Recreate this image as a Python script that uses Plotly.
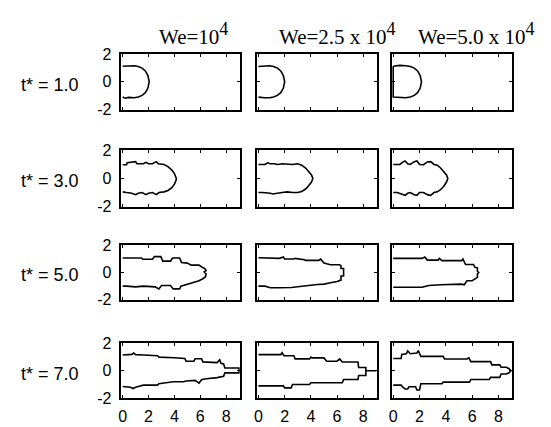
import plotly.graph_objects as go

# ---------------- data ----------------
col_titles = ["We=10<sup><span style='font-size:18px'>4</span></sup>",
              "We=2.5 x 10<sup><span style='font-size:18px'>4</span></sup>",
              "We=5.0 x 10<sup><span style='font-size:18px'>4</span></sup>"]
row_titles = ["t* = 1.0", "t* = 3.0", "t* = 5.0", "t* = 7.0"]
x_ticks = [0, 2, 4, 6, 8]
y_ticks = [-2, 0, 2]
y_tick_text = ["-2", "0", "2"]

# t* = 1.0
x_t1_a = [0, 0.45, 0.9, 1.2, 1.5, 1.75, 1.95, 2.05, 1.95, 1.75, 1.5, 1.2, 0.9, 0.45, 0.2, 0]
y_t1_a = [1.12, 1.15, 1.15, 1.1, 0.98, 0.78, 0.45, 0, -0.45, -0.78, -0.98, -1.1, -1.15, -1.12, -1.18, -1.1]
x_t1_b = [0, 0.45, 0.85, 1.15, 1.45, 1.7, 1.9, 2.0, 1.9, 1.7, 1.45, 1.15, 0.85, 0.45, 0]
y_t1_b = [1.1, 1.15, 1.15, 1.1, 0.98, 0.78, 0.45, 0, -0.45, -0.78, -0.98, -1.1, -1.15, -1.15, -1.1]
x_t1_c = [0, 0.5, 0.95, 1.3, 1.6, 1.85, 2.05, 2.15, 2.05, 1.85, 1.6, 1.3, 0.95, 0.5, 0, 0]
y_t1_c = [1.12, 1.18, 1.15, 1.1, 0.98, 0.78, 0.45, 0, -0.45, -0.78, -0.98, -1.1, -1.15, -1.15, -1.1, 1.12]

# t* = 3.0
x_t3_a = [0, 0.3, 0.35, 0.8, 1.0, 1.1, 1.6, 1.8, 2.0, 2.3, 2.6, 2.75, 3.2, 3.5, 3.8, 4.0, 4.12, 4.15,
          4.12, 4.0, 3.8, 3.5, 3.2, 2.8, 2.6, 2.3, 2.0, 1.8, 1.5, 1.2, 1.0, 0.7, 0.3, 0]
y_t3_a = [0.98, 0.98, 1.12, 1.15, 1.2, 1.05, 1.05, 1.15, 1.05, 1.05, 1.2, 1.05, 1.0, 0.85, 0.6, 0.35, 0.15, 0,
          -0.15, -0.4, -0.65, -0.85, -0.95, -1.0, -1.15, -1.0, -1.05, -1.15, -1.0, -1.05, -1.15, -1.05, -1.0, -0.95]
x_t3_b = [0, 0.5, 0.7, 0.9, 1.2, 1.5, 1.8, 2.2, 2.6, 3.0, 3.3, 3.6, 3.85, 4.05, 4.15,
          4.05, 3.85, 3.6, 3.3, 3.0, 2.6, 2.2, 1.8, 1.4, 1.1, 0.9, 0.6, 0.3, 0]
y_t3_b = [1.0, 1.0, 1.12, 1.05, 1.05, 1.0, 1.05, 1.0, 1.0, 1.05, 0.95, 0.75, 0.5, 0.25, 0,
          -0.25, -0.5, -0.75, -0.92, -1.0, -1.0, -0.95, -1.0, -1.05, -1.1, -1.05, -1.0, -1.0, -1.0]
x_t3_c = [0, 0.5, 0.7, 0.9, 1.1, 1.3, 1.6, 1.8, 2.0, 2.3, 2.6, 2.85, 3.1, 3.35, 3.6, 3.85, 4.05, 4.15,
          4.05, 3.85, 3.6, 3.35, 3.1, 2.85, 2.6, 2.3, 2.0, 1.8, 1.6, 1.3, 1.1, 0.9, 0.6, 0.3, 0]
y_t3_c = [1.0, 1.0, 1.15, 1.25, 1.05, 1.0, 1.2, 1.25, 1.0, 0.98, 1.18, 1.2, 1.0, 0.95, 0.75, 0.5, 0.25, 0,
          -0.25, -0.55, -0.8, -0.95, -1.0, -1.2, -1.15, -1.0, -1.0, -1.2, -1.15, -1.0, -1.05, -1.2, -1.1, -1.0, -1.0]

# t* = 5.0
x_t5_a = [0, 1.45, 1.55, 2.3, 2.45, 2.95, 3.1, 3.7, 3.85, 4.4, 4.55, 5.0, 5.3, 5.9, 6.15, 6.35, 6.45, 6.3, 6.45,
          6.4, 6.2, 5.9, 5.4, 5.0, 4.5, 4.4, 3.9, 3.7, 3.0, 2.8, 2.5, 1.6, 1.0, 0.3, 0]
y_t5_a = [1.08, 1.08, 0.98, 0.98, 1.18, 1.18, 0.85, 0.85, 1.08, 1.08, 0.75, 0.7, 0.55, 0.55, 0.4, 0.3, 0.15, 0.05, -0.1,
          -0.3, -0.45, -0.6, -0.75, -0.85, -1.0, -1.2, -1.2, -0.95, -0.95, -1.2, -1.05, -1.0, -1.05, -1.0, -1.0]
x_t5_b = [0, 1.5, 1.6, 1.9, 2.0, 2.7, 2.8, 3.5, 3.6, 4.6, 4.75, 5.0, 5.5, 6.2, 6.3, 6.3, 6.5, 6.5, 6.3, 6.3,
          6.0, 5.5, 5.0, 4.5, 3.8, 3.2, 2.5, 1.5, 0.9, 0.5, 0]
y_t5_b = [1.1, 1.1, 1.05, 1.15, 1.0, 1.0, 1.05, 0.95, 0.9, 0.9, 1.0, 0.7, 0.58, 0.58, 0.5, 0.3, 0.3, -0.25, -0.25, -0.55,
          -0.65, -0.75, -0.85, -0.88, -0.95, -1.0, -1.1, -1.12, -1.12, -1.0, -1.0]
x_t5_c = [0, 2.2, 2.4, 2.6, 3.4, 3.5, 3.7, 5.2, 5.3, 5.5, 6.1, 6.2, 6.4, 6.4, 6.5, 6.4, 6.4, 6.2,
          6.0, 5.6, 5.4, 5.2, 4.2, 3.6, 2.7, 2.5, 2.2, 0]
y_t5_c = [1.05, 1.05, 1.15, 0.92, 0.92, 1.05, 0.88, 0.88, 1.0, 0.6, 0.6, 0.4, 0.35, 0.1, 0, -0.1, -0.35, -0.45,
          -0.6, -0.6, -0.9, -0.85, -0.85, -0.9, -0.95, -1.0, -1.08, -1.08]

# t* = 7.0
x_t7_a = [0, 0.7, 0.85, 1.0, 1.6, 2.7, 2.8, 3.9, 4.0, 4.8, 4.9, 5.5, 5.6, 6.1, 6.2, 7.3, 7.5, 7.6, 7.8, 7.9, 9.0,
          9.0, 7.9, 7.8, 7.5, 7.3, 6.3, 6.1, 5.9, 5.6, 4.9, 4.7, 3.9, 2.8, 2.7, 1.6, 1.0, 0.8, 0.6, 0]
y_t7_a = [1.15, 1.2, 1.3, 1.18, 1.15, 1.1, 1.0, 1.0, 0.95, 0.9, 0.7, 0.7, 0.88, 0.88, 0.65, 0.6, 0.8, 0.55, 0.5, 0.2, 0.2,
          -0.15, -0.15, -0.4, -0.45, -0.5, -0.6, -0.65, -0.9, -0.7, -0.75, -0.8, -0.8, -0.95, -1.05, -1.05, -1.2, -1.3, -1.2, -1.15]
x_t7_b = [0, 1.7, 1.8, 1.95, 2.7, 2.8, 3.9, 4.0, 4.1, 5.0, 5.2, 6.0, 6.2, 6.4, 7.6, 7.65, 8.2, 8.2, 9.0, 8.2, 8.2, 7.65,
          7.6, 6.5, 6.4, 5.2, 4.0, 3.9, 2.6, 2.5, 2.0, 1.9, 0]
y_t7_b = [1.18, 1.18, 1.32, 1.1, 1.1, 0.87, 0.87, 1.0, 0.94, 0.94, 0.7, 0.7, 0.87, 0.64, 0.64, 0.24, 0.24, 0, 0, 0, -0.35, -0.35,
          -0.64, -0.64, -0.87, -0.87, -0.87, -1.0, -1.0, -1.25, -1.25, -1.1, -1.1]
x_t7_c = [0, 0.6, 0.65, 1.0, 1.1, 1.3, 1.8, 1.9, 2.1, 3.8, 3.9, 5.6, 5.75, 5.9, 7.4, 7.5, 8.1, 8.2, 8.6, 8.8, 8.95,
          8.8, 8.6, 8.2, 8.1, 7.4, 7.3, 5.9, 5.8, 3.8, 3.7, 2.1, 2.0, 1.8, 1.7, 1.2, 1.1, 0.9, 0.7, 0.6, 0]
y_t7_c = [0.9, 0.9, 1.2, 1.25, 1.45, 1.25, 1.3, 1.48, 1.05, 1.05, 0.86, 0.86, 0.95, 0.67, 0.67, 0.43, 0.43, 0.26, 0.26, 0.15, 0,
          -0.15, -0.24, -0.24, -0.48, -0.48, -0.64, -0.64, -0.83, -0.83, -0.95, -0.95, -1.4, -1.4, -1.17, -1.17, -1.33, -1.33, -1.17, -1.05, -1.05]

panels = [
    [(x_t1_a, y_t1_a), (x_t1_b, y_t1_b), (x_t1_c, y_t1_c)],
    [(x_t3_a, y_t3_a), (x_t3_b, y_t3_b), (x_t3_c, y_t3_c)],
    [(x_t5_a, y_t5_a), (x_t5_b, y_t5_b), (x_t5_c, y_t5_c)],
    [(x_t7_a, y_t7_a), (x_t7_b, y_t7_b), (x_t7_c, y_t7_c)],
]

# ---------------- layout ----------------
W, H = 551, 427
col_px = [(111, 230), (247.5, 368), (383, 504)]
row_px = [(39.5, 97.5), (140, 198.5), (239, 295.5), (341, 398)]
title_x_px = [184, 328, 468]

fig = go.Figure()
layout = dict(width=W, height=H, margin=dict(l=0, r=0, t=0, b=0),
              paper_bgcolor="white", plot_bgcolor="white", showlegend=False)
annotations = []
tick_font = dict(family="Liberation Sans", size=16, color="black")

for r in range(4):
    for c in range(3):
        k = r * 3 + c + 1
        xs, ys = panels[r][c]
        fig.add_trace(go.Scatter(x=xs, y=ys, mode="lines",
                                 line=dict(color="black", width=1.6),
                                 xaxis=f"x{k}", yaxis=f"y{k}", hoverinfo="skip"))
        x0, x1 = col_px[c]
        y0, y1 = row_px[r]
        xa = dict(domain=[x0 / W, x1 / W], range=[-0.1, 9.05], anchor=f"y{k}",
                  showline=True, mirror="ticks", linecolor="black", linewidth=1.6,
                  ticks="inside", ticklen=3, tickwidth=1, tickcolor="black",
                  tickvals=x_ticks, showgrid=False, zeroline=False,
                  showticklabels=(r == 3), tickfont=tick_font, ticklabelstandoff=3)
        ya = dict(domain=[1 - y1 / H, 1 - y0 / H], range=[-2, 2], anchor=f"x{k}",
                  showline=True, mirror="ticks", linecolor="black", linewidth=1.6,
                  ticks="inside", ticklen=3, tickwidth=1, tickcolor="black",
                  tickvals=y_ticks, ticktext=y_tick_text, showgrid=False, zeroline=False,
                  showticklabels=(c == 0), tickfont=tick_font, ticklabelstandoff=5)
        sx = "" if k == 1 else str(k)
        layout[f"xaxis{sx}"] = xa
        layout[f"yaxis{sx}"] = ya

for c, t in enumerate(col_titles):
    annotations.append(dict(text=t, x=title_x_px[c] / W, y=1 - (row_px[0][0] - 3) / H,
                            xref="paper", yref="paper",
                            xanchor="center", yanchor="bottom", showarrow=False,
                            font=dict(family="Liberation Serif", size=21, color="black")))
for r, t in enumerate(row_titles):
    y0, y1 = row_px[r]
    annotations.append(dict(text=t, x=8 / W, y=1 - ((y0 + y1) / 2 + 3) / H, xref="paper", yref="paper",
                            xanchor="left", yanchor="middle", showarrow=False,
                            font=dict(family="Liberation Sans", size=18, color="black")))
layout["annotations"] = annotations
fig.update_layout(**layout)
fig.write_html("out.html")
